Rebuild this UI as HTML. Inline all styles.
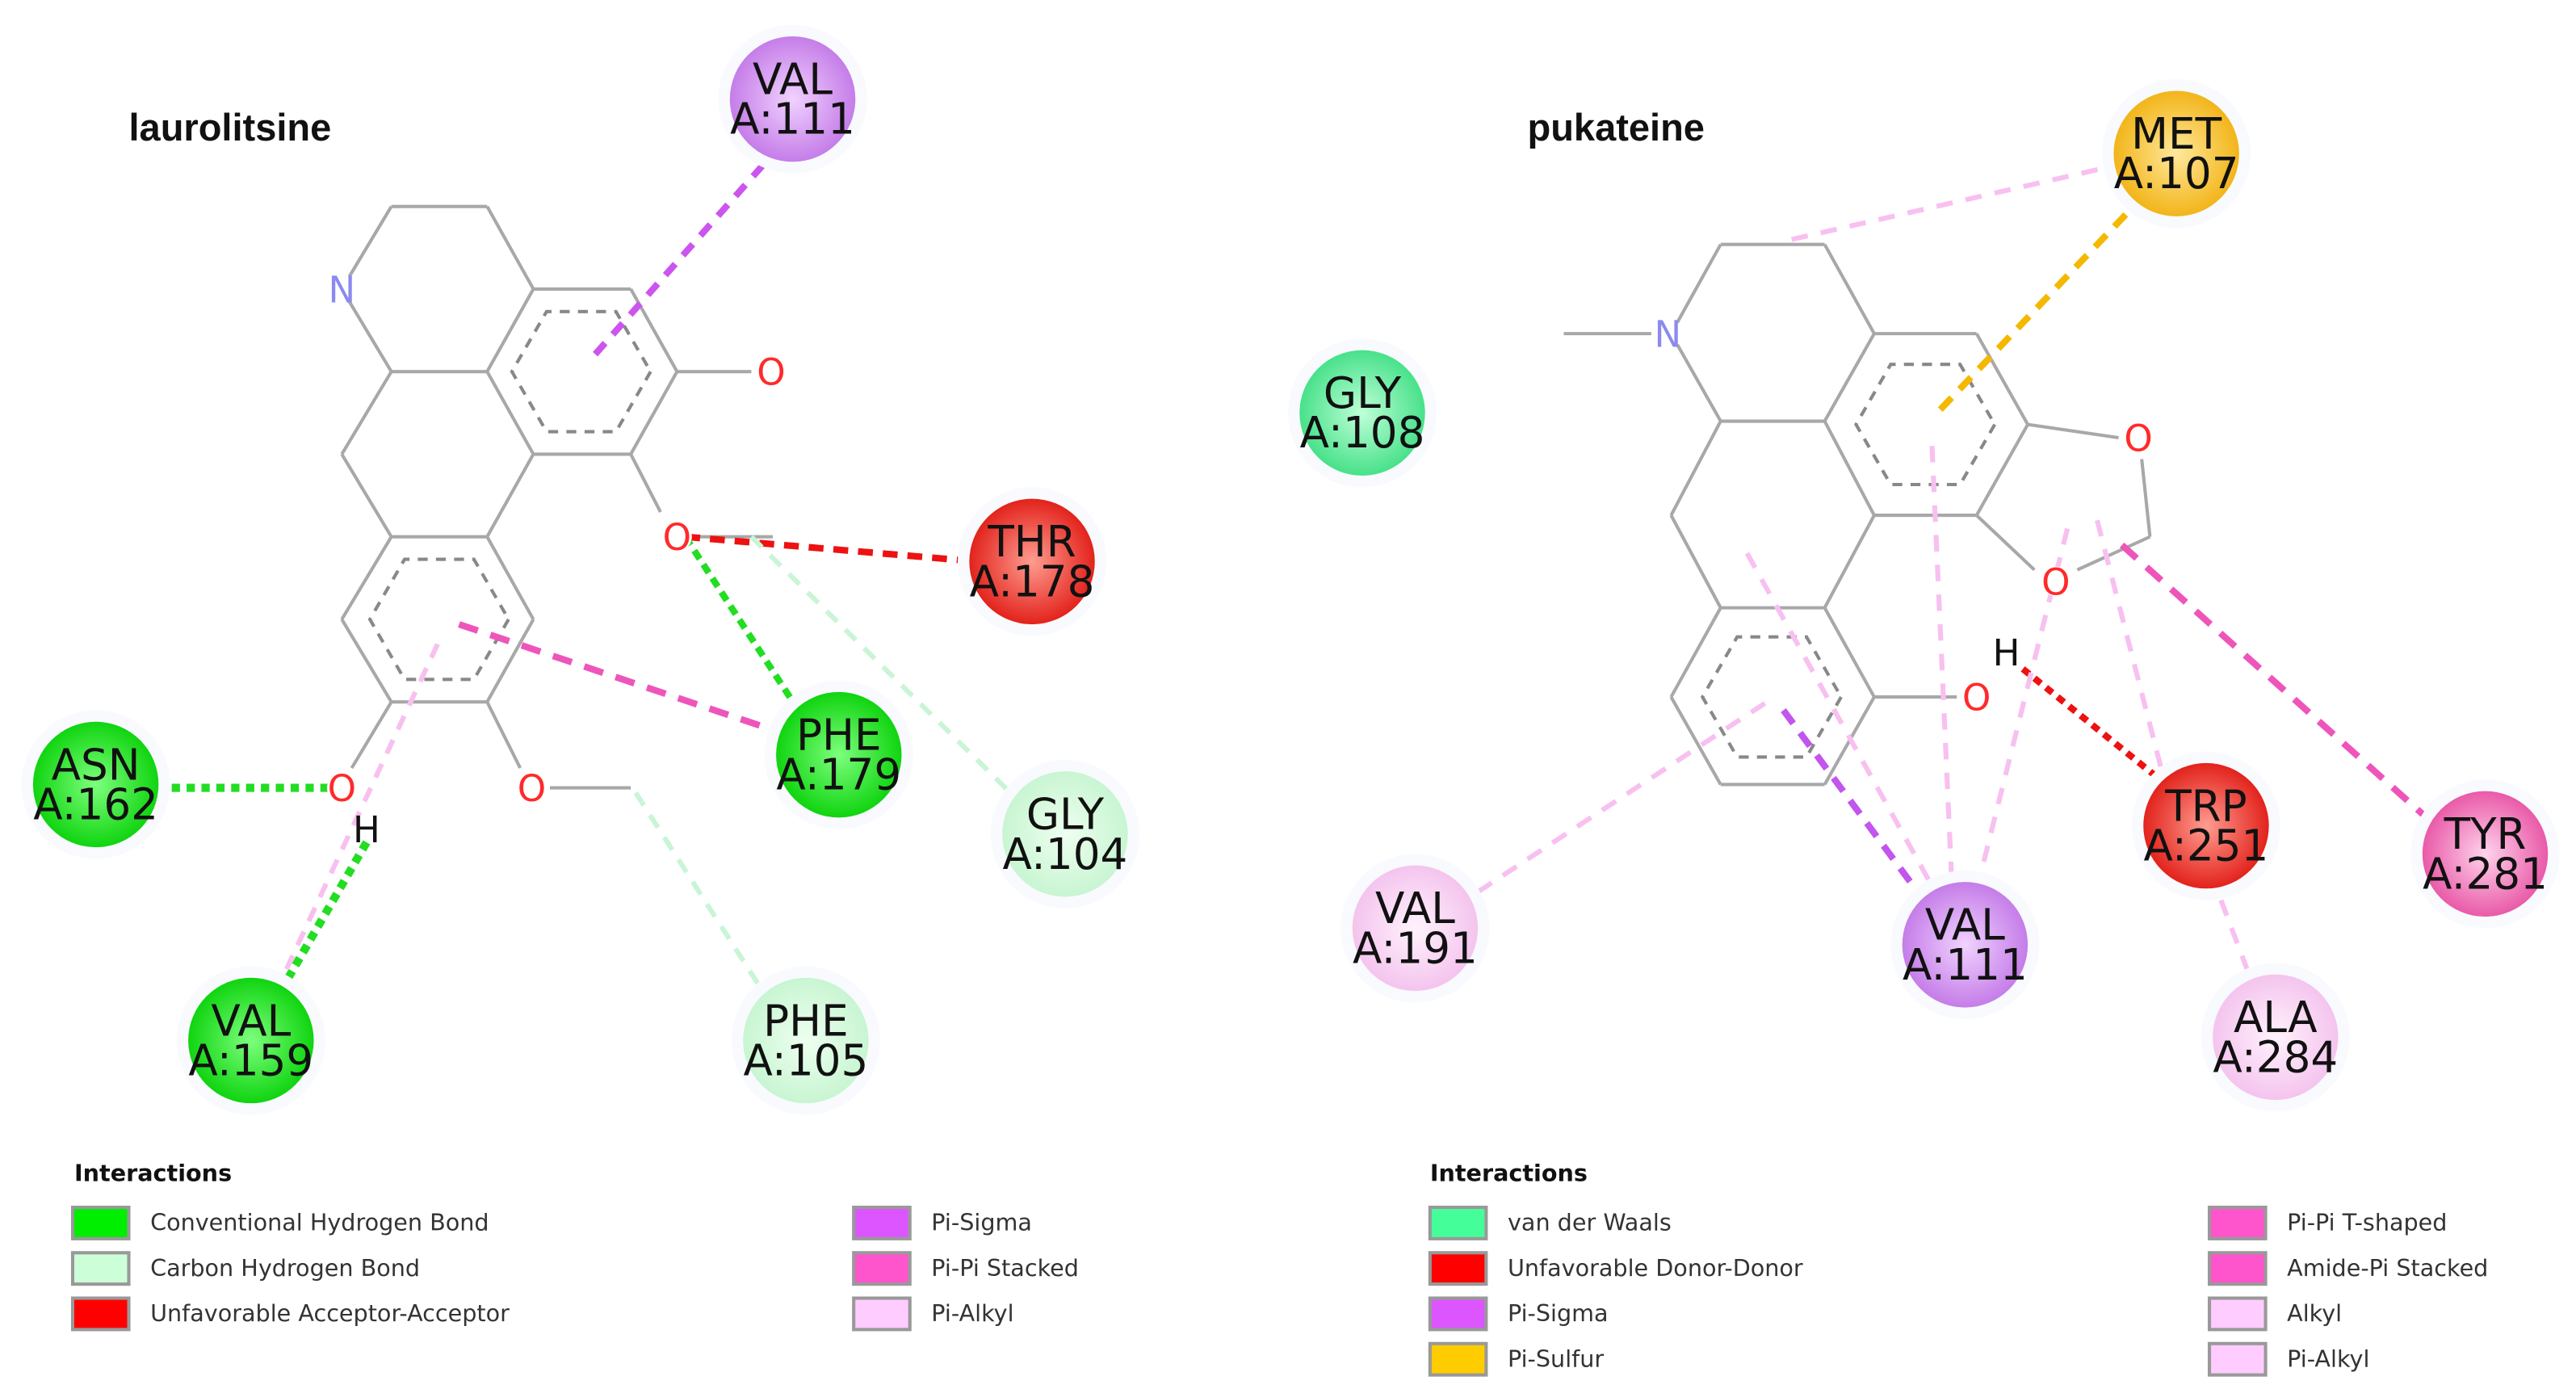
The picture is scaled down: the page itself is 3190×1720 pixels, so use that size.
<!DOCTYPE html>
<html><head><meta charset="utf-8"><style>
html,body{margin:0;padding:0;background:#fff;}
svg{display:block;}
text{font-family:"DejaVu Sans","Liberation Sans",sans-serif;}
</style></head><body>
<svg id="fig" width="3190" height="1720" viewBox="0 0 1560 841" preserveAspectRatio="none" xmlns="http://www.w3.org/2000/svg">
<defs>
<radialGradient id="gGreen" cx="50%" cy="50%" r="50%"><stop offset="0" stop-color="#7dff7d"/><stop offset="1" stop-color="#10d410"/></radialGradient>
<radialGradient id="gLgreen" cx="50%" cy="50%" r="50%"><stop offset="0" stop-color="#eefff0"/><stop offset="1" stop-color="#c8f5d2"/></radialGradient>
<radialGradient id="gVdw" cx="50%" cy="50%" r="50%"><stop offset="0" stop-color="#bfffd8"/><stop offset="1" stop-color="#48e18a"/></radialGradient>
<radialGradient id="gRed" cx="50%" cy="50%" r="50%"><stop offset="0" stop-color="#ff9c90"/><stop offset="1" stop-color="#e2231c"/></radialGradient>
<radialGradient id="gPurple" cx="50%" cy="50%" r="50%"><stop offset="0" stop-color="#f0d2ff"/><stop offset="1" stop-color="#c57de8"/></radialGradient>
<radialGradient id="gOrange" cx="50%" cy="50%" r="50%"><stop offset="0" stop-color="#ffe89a"/><stop offset="1" stop-color="#f2b51a"/></radialGradient>
<radialGradient id="gPink" cx="50%" cy="50%" r="50%"><stop offset="0" stop-color="#ffd3ec"/><stop offset="1" stop-color="#e95aa8"/></radialGradient>
<radialGradient id="gLpink" cx="50%" cy="50%" r="50%"><stop offset="0" stop-color="#fff2fc"/><stop offset="1" stop-color="#f4c4ee"/></radialGradient>
</defs>
<g id="bonds"></g>
<g id="inter"></g>
<g id="atoms"></g>
<g id="res"></g>
<text x="78" y="85" font-size="23" font-weight="bold" fill="#111" style="font-family:'Liberation Sans',sans-serif">laurolitsine</text>
<text x="925" y="85" font-size="23" font-weight="bold" fill="#111" style="font-family:'Liberation Sans',sans-serif">pukateine</text>
<g id="legend"></g>
</svg>
<script>
const NS='http://www.w3.org/2000/svg';
function mk(tag,attrs,parent){const e=document.createElementNS(NS,tag);for(const k in attrs)e.setAttribute(k,attrs[k]);parent.appendChild(e);return e;}
const bondsG=document.getElementById('bonds'),interG=document.getElementById('inter'),atomsG=document.getElementById('atoms'),resG=document.getElementById('res'),legG=document.getElementById('legend');

const resNames=['VAL A:111','THR A:178','PHE A:179','ASN A:162','GLY A:104','VAL A:159','PHE A:105','MET A:107','GLY A:108','TRP A:251','TYR A:281','VAL A:191','VAL A:111','ALA A:284'];
const resX=[480,625,508,58,645,152,488,1318,825,1336,1505,857,1190,1378];
const resY=[60,340,457,475,505,630,630,93,250,500,517,562,572,628];
const resFill=['gPurple','gRed','gGreen','gGreen','gLgreen','gGreen','gLgreen','gOrange','gVdw','gRed','gPink','gLpink','gPurple','gLpink'];

const G='#a8a8a8',R='#ff2a2a';
const bonds=[
[207,175,237,125,G],[237,125,295,125,G],[295,125,323,175,G],[323,175,295,225,G],[295,225,237,225,G],[237,225,207,175,G],
[323,175,382,175,G],[382,175,410,225,G],[410,225,382,275,G],[382,275,323,275,G],[323,275,295,225,G],
[323,275,295,325,G],[295,325,237,325,G],[237,325,207,275,G],[207,275,237,225,G],
[237,325,207,375,G],[207,375,237,425,G],[237,425,295,425,G],[295,425,323,375,G],[323,375,295,325,G],
[410,225,455,225,G],[382,275,400,310,G],[420,325,468,325,G],[237,425,213,465,G],[295,425,315,465,G],[333,477,382,477,G],
[1012,202,1042,148,G],[1042,148,1105,148,G],[1105,148,1135,202,G],[1135,202,1105,255,G],[1105,255,1042,255,G],[1042,255,1012,202,G],
[947,202,1000,202,G],
[1135,202,1197,202,G],[1197,202,1228,257,G],[1228,257,1197,312,G],[1197,312,1135,312,G],[1135,312,1105,255,G],
[1135,312,1105,368,G],[1105,368,1042,368,G],[1042,368,1012,312,G],[1012,312,1042,255,G],
[1042,368,1012,422,G],[1012,422,1042,475,G],[1042,475,1105,475,G],[1105,475,1135,422,G],[1135,422,1105,368,G],
[1135,422,1185,422,G],[1228,257,1283,265,G],[1197,312,1232,345,G],[1258,345,1302,325,G],[1302,325,1297,278,G]
];
bonds.forEach(b=>{const l=mk('line',{x1:b[0],y1:b[1],x2:b[2],y2:b[3],stroke:b[4],'stroke-width':2},bondsG);

});
const rings=[[352,225],[266,375],[1166,257],[1073,422]];
rings.forEach(c=>{const pts=[];for(let i=0;i<6;i++){const a=Math.PI/3*i;pts.push((c[0]+42*Math.cos(a))+','+(c[1]+42*Math.sin(a)));}
const p=mk('polygon',{points:pts.join(' '),fill:'none',stroke:'#888','stroke-width':2,'stroke-dasharray':'6 5'},bondsG);

});

const inter=[
[462,100,360,215,'#cc55ee',4,'9 7'],
[415,325,592,340,'#ee1111',4,'9 6'],
[415,325,490,440,'#22dd22',4,'6 4'],
[455,325,622,490,'#c9f5d6',3,'9 7'],
[278,378,492,450,'#ee55bb',4,'12 8'],
[95,477,200,477,'#22dd22',5,'5 4'],
[222,510,170,600,'#22dd22',5,'5 4'],
[265,390,165,605,'#f8c0ee',3,'9 7'],
[385,480,465,605,'#c9f5d6',3,'9 7'],
[1085,145,1282,100,'#f8c0f0',3,'10 8'],
[1175,248,1292,125,'#f5b800',4,'10 7'],
[1225,405,1318,480,'#ee1111',4,'5 4'],
[1285,330,1475,500,'#ee55bb',4,'12 8'],
[895,540,1070,425,'#f8c0f0',3,'10 8'],
[1080,430,1165,545,'#c255ee',4,'10 7'],
[1058,335,1172,540,'#f8c0f0',3,'10 8'],
[1170,270,1182,535,'#f8c0f0',3,'10 8'],
[1252,320,1198,535,'#f8c0f0',3,'10 8'],
[1270,315,1310,470,'#f8c0f0',3,'10 8'],
[1345,545,1362,590,'#f8c0f0',3,'10 8']
];
inter.forEach(d=>{const l=mk('line',{x1:d[0],y1:d[1],x2:d[2],y2:d[3],stroke:d[4],'stroke-width':d[5],'stroke-dasharray':d[6]},interG);

});

const atoms=[['N',207,175,'#8a8af0'],['O',467,225,R],['O',410,325,R],['O',207,477,R],['H',222,502,'#111'],['O',322,477,R],
['N',1010,202,'#8a8af0'],['O',1197,422,R],['H',1215,395,'#111'],['O',1295,265,R],['O',1245,352,R]];
atoms.forEach(a=>{if(a[0]!=='H')mk('circle',{cx:a[1],cy:a[2],r:9,fill:'#fff'},atomsG);
const t=mk('text',{x:a[1],y:a[2]+8,'text-anchor':'middle','font-size':22,fill:a[3]},atomsG);t.textContent=a[0];

});

resNames.forEach((n,i)=>{const g=mk('g',{},resG);


mk('circle',{cx:resX[i],cy:resY[i],r:45,fill:'#f8fafe'},g);
mk('circle',{cx:resX[i],cy:resY[i],r:38,fill:'url(#'+resFill[i]+')'},g);
const p=n.split(' ');
const t1=mk('text',{x:resX[i],y:resY[i]-3,'text-anchor':'middle','font-size':26,fill:'#111'},g);t1.textContent=p[0];
const t2=mk('text',{x:resX[i],y:resY[i]+21,'text-anchor':'middle','font-size':26,fill:'#111'},g);t2.textContent=p[1];});

const legLabels=['Conventional Hydrogen Bond','Carbon Hydrogen Bond','Unfavorable Acceptor-Acceptor','Pi-Sigma','Pi-Pi Stacked','Pi-Alkyl',
'van der Waals','Unfavorable Donor-Donor','Pi-Sigma','Pi-Sulfur','Pi-Pi T-shaped','Amide-Pi Stacked','Alkyl','Pi-Alkyl'];
const legColors=['#00ee00','#ccffd8','#ff0000','#dd55ff','#ff55cc','#ffccff','#44ff99','#ff0000','#dd55ff','#ffcc00','#ff55cc','#ff55cc','#ffccff','#ffccff'];
const legX=[44,44,44,517,517,517,866,866,866,866,1338,1338,1338,1338];
const legRow=[0,1,2,0,1,2,0,1,2,3,0,1,2,3];
[[45,'left'],[866,'right']].forEach(h=>{const t=mk('text',{x:h[0],y:715,'font-size':14,'font-weight':'bold',fill:'#111'},legG);t.textContent='Interactions';

});
legLabels.forEach((l,i)=>{const y=731+legRow[i]*27.5;const g=mk('g',{},legG);


mk('rect',{x:legX[i],y:y,width:34,height:19,fill:legColors[i],stroke:'#999','stroke-width':2},g);
const t=mk('text',{x:legX[i]+47,y:y+14,'font-size':14,fill:'#333'},g);t.textContent=l;});
</script>
</body></html>
